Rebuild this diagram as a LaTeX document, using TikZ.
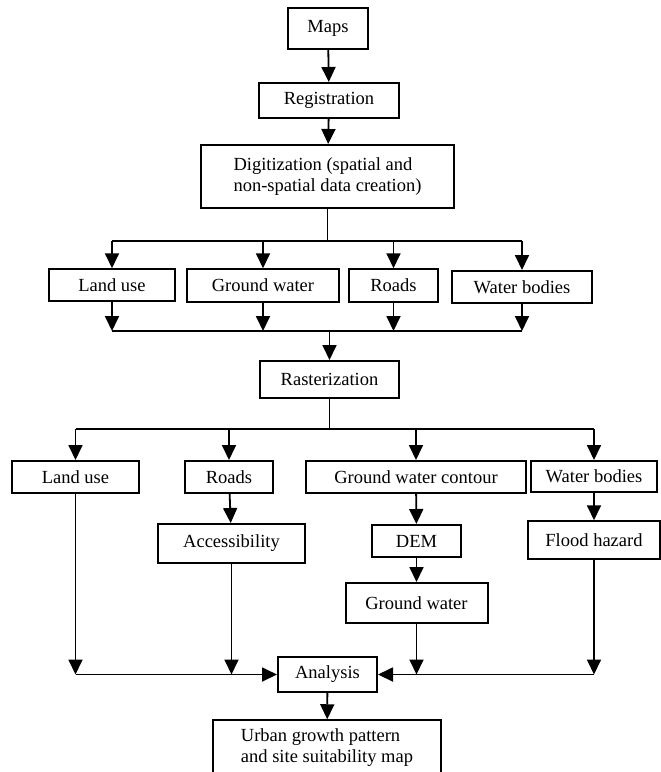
\documentclass[tikz,border=0pt]{standalone}
\usepackage{fontspec}
\setmainfont{Liberation Serif}
\usetikzlibrary{arrows.meta}

\begin{document}
\begin{tikzpicture}[x=1pt,y=-1pt,
          box/.style={draw,line width=2pt,inner sep=0pt,align=center,font=\fontsize{18.5}{21}\selectfont},
          arr/.style={line width=1.8pt,-{Triangle[width=14pt,length=15pt]}},
          ln/.style={line width=1.8pt}]
          \useasboundingbox (0,0) rectangle (661,772);
          \clip (0,0) rectangle (661,772);
          \node[box,minimum width=80,minimum height=41] (maps) at (328,28.5) {Maps};
          \node[box,minimum width=140,minimum height=35] (reg) at (329,100.5) {Registration};
          \node[box,align=left,minimum width=253,minimum height=63] (digit) at (327.5,176.5) {Digitization (spatial and\\non-spatial data creation)};
          % first split
          \node[box,line width=1.5pt,minimum width=126,minimum height=32] (lu1) at (112,285) {Land use};
          \node[box,line width=1.5pt,minimum width=152,minimum height=33] (gw1) at (263,285.5) {Ground water};
          \node[box,line width=1.5pt,minimum width=89,minimum height=33] (rd1) at (393.5,285.5) {Roads};
          \node[box,minimum width=140,minimum height=32] (wb1) at (522,287) {Water bodies};
          \node[box,minimum width=139,minimum height=37] (rast) at (329.5,379.5) {Rasterization};
          % second split
          \node[box,minimum width=127,minimum height=32] (lu2) at (75.5,477) {Land use};
          \node[box,minimum width=88,minimum height=32] (rd2) at (229,477) {Roads};
          \node[box,minimum width=220,minimum height=32] (gwc) at (416,477) {Ground water contour};
          \node[box,minimum width=126,minimum height=31] (wb2) at (594,476.5) {Water bodies};
          \node[box,minimum width=147,minimum height=39] (acc) at (231.5,543.5) {Accessibility};
          \node[box,minimum width=89,minimum height=32] (dem) at (416.5,541) {DEM};
          \node[box,line width=1.5pt,minimum width=132,minimum height=38] (flood) at (594,540) {Flood hazard};
          \node[box,minimum width=142,minimum height=40] (gw2) at (416.5,603) {Ground water};
          \node[box,minimum width=99,minimum height=35] (ana) at (327.5,674.5) {Analysis};
          \node[box,line width=1.5pt,align=left,minimum width=228,minimum height=55] (urban) at (327,747.5) {Urban growth pattern\\and site suitability map};
          \coordinate (bus1) at (327.5,241);
          \coordinate (bus2) at (329.5,331);
          \coordinate (bus3) at (329.5,429);
          \draw[arr] (maps) -- (reg);
          \draw[arr] (reg) -- (digit);
          \draw[ln,line width=1.3pt] (digit) -- (bus1);
          \draw[ln] (lu1 |- bus1) -- (wb1 |- bus1);
          \foreach \n in {lu1,gw1,rd1,wb1} \draw[arr] (\n |- bus1) -- (\n);
          \foreach \n in {lu1,gw1,rd1,wb1} \draw[arr] (\n) -- (\n |- bus2);
          \draw[ln] (lu1 |- bus2) -- (wb1 |- bus2);
          \draw[arr] (bus2) -- (rast);
          \draw[ln] (rast) -- (bus3);
          \draw[ln] (lu2 |- bus3) -- (wb2 |- bus3);
          \foreach \n in {lu2,rd2,gwc,wb2} \draw[arr] (\n |- bus3) -- (\n);
          \draw[arr] (rd2) -- (acc);
          \draw[arr] (gwc) -- (dem);
          \draw[arr] (dem) -- (gw2);
          \draw[arr] (wb2) -- (flood);
          \foreach \n in {lu2,acc,gw2,flood} \draw[arr] (\n) -- (\n |- ana);
          \draw[arr] (lu2 |- ana) -- (ana);
          \draw[arr] (flood |- ana) -- (ana);
          \draw[arr] (ana) -- (urban);
\end{tikzpicture}
\end{document}
